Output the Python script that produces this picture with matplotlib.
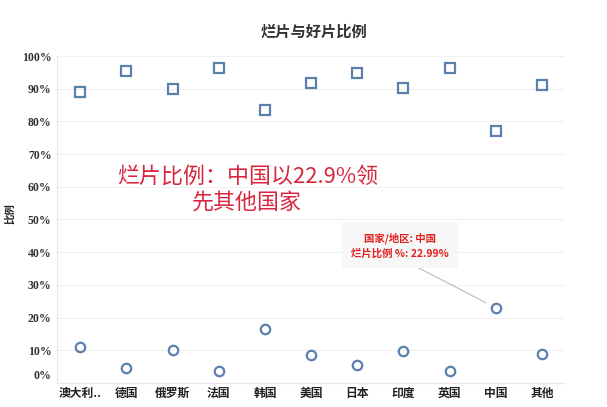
import matplotlib
matplotlib.use('Agg')
import matplotlib.pyplot as plt
from matplotlib.transforms import ScaledTranslation

plt.rcParams['font.family'] = ['Noto Sans CJK SC', 'DejaVu Sans']

# values
countries = ['澳大利..', '德国', '俄罗斯', '法国', '韩国', '美国', '日本', '印度', '英国', '中国', '其他']
good_ratio = [0.891, 0.955, 0.900, 0.963, 0.836, 0.917, 0.948, 0.902, 0.963, 0.770, 0.911]
bad_ratio = [0.110, 0.045, 0.101, 0.037, 0.164, 0.085, 0.054, 0.099, 0.037, 0.2299, 0.090]
yticks = [0.0, 0.1, 0.2, 0.3, 0.4, 0.5, 0.6, 0.7, 0.8, 0.9, 1.0]
ytick_labels = ['0%', '10%', '20%', '30%', '40%', '50%', '60%', '70%', '80%', '90%', '100%']

marker_color = '#5b80ac'
red = '#d7263d'

fig = plt.figure(figsize=(6.07, 4.07), dpi=100)
ax = fig.add_axes([0.094, 0.059, 0.837, 0.8034])

xs = list(range(len(countries)))
ax.plot(xs, good_ratio, linestyle='None', marker='s', markersize=6.5,
        markerfacecolor='none', markeredgecolor=marker_color, markeredgewidth=1.6)
ax.plot(xs, bad_ratio, linestyle='None', marker='o', markersize=6.8,
        markerfacecolor='none', markeredgecolor=marker_color, markeredgewidth=1.6)

ax.set_xlim(-0.5, len(countries) - 0.5)
ax.set_ylim(0, 1.0)
ax.set_yticks(yticks)
ax.set_yticklabels(ytick_labels, family='Liberation Serif', fontweight='bold',
                   fontsize=8.5, color='#333333')
ax.set_xticks(xs)
ax.set_xticklabels(countries, fontweight='bold', fontsize=8.5, color='#222222')
ax.tick_params(length=0, axis='y', pad=4)
ax.tick_params(length=0, axis='x', pad=3)

# 0% label sits a bit above the axis line in the reference
lab0 = ax.get_yticklabels()[0]
lab0.set_transform(lab0.get_transform() + ScaledTranslation(0, 0.08, fig.dpi_scale_trans))

ax.grid(axis='y', color='#f0f0f0', linewidth=0.8)
ax.set_axisbelow(True)
for side in ['top', 'right']:
    ax.spines[side].set_visible(False)
ax.spines['left'].set_color('#e8e8e8')
ax.spines['bottom'].set_color('#e8e8e8')

fig.text(0.517, 0.921, '烂片与好片比例', ha='center', va='center',
         fontsize=11, fontweight='bold', color='#333333')
fig.text(0.017, 0.475, '比例', rotation=90, ha='center', va='center',
         fontsize=7.5, fontweight='bold', color='#222222')

# red commentary
ax.text(3.62, 0.59, '烂片比例：中国以22.9%领\n先其他国家', ha='center', va='center',
        fontsize=15.8, color=red, linespacing=1.25)

# tooltip pointing at China
ci = countries.index('中国')
ax.annotate('国家/地区: 中国\n烂片比例 %: 22.99%',
            xy=(ci, bad_ratio[ci]), xytext=(-69, 45), textcoords='offset points',
            ha='center', va='center', fontsize=7.5, fontweight='bold',
            color='#e0201f', linespacing=1.5,
            bbox=dict(boxstyle='square,pad=0.9', facecolor='#f7f7f7', edgecolor='none'),
            arrowprops=dict(arrowstyle='-', color='#bbbbbb', linewidth=0.8,
                            relpos=(0.5, 0.0), shrinkA=0, shrinkB=8))

fig.savefig('out.png', dpi=100)
